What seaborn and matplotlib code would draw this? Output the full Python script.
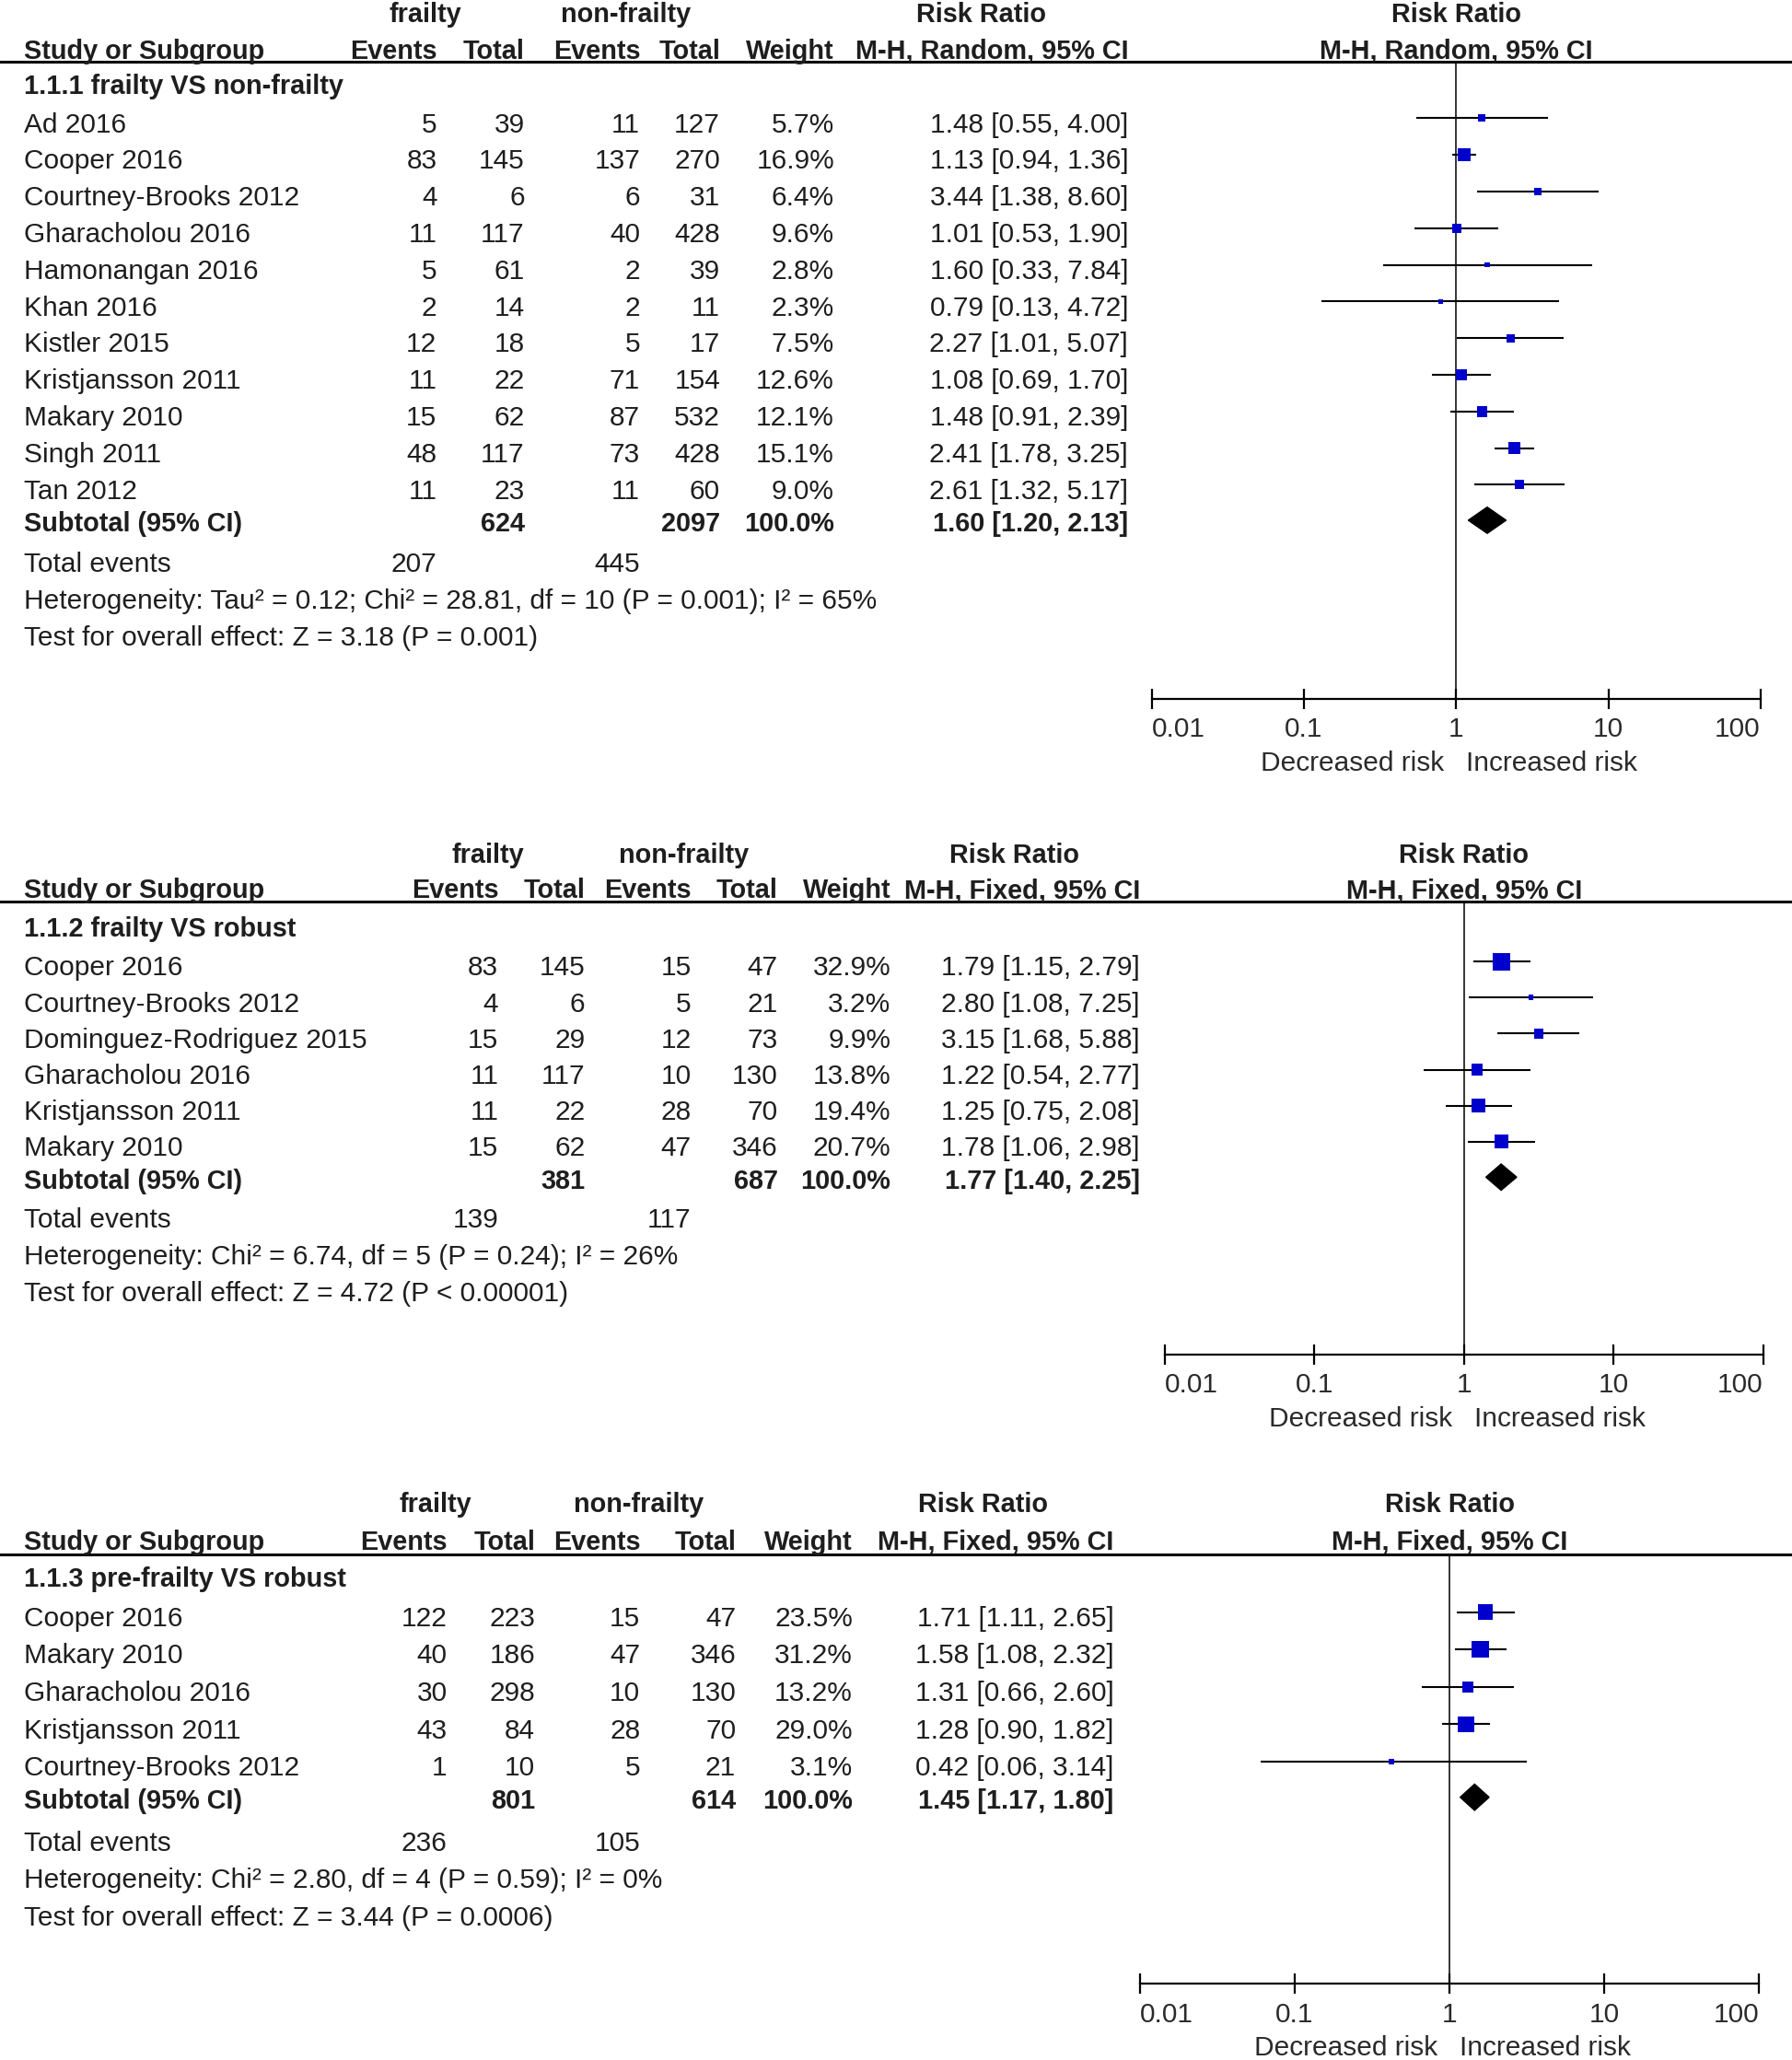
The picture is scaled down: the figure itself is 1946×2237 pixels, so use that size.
import numpy as np
import pandas as pd
import matplotlib
matplotlib.use("Agg")
import matplotlib.pyplot as plt
from matplotlib.ticker import NullLocator
import seaborn as sns

sns.set_theme(style="white")
plt.rcParams['font.family'] = ['Liberation Sans', 'DejaVu Sans']

# ---------------- data ----------------
# 1.1.1 frailty VS non-frailty (random effects)
p1_study = ["Ad 2016", "Cooper 2016", "Courtney-Brooks 2012", "Gharacholou 2016",
            "Hamonangan 2016", "Khan 2016", "Kistler 2015", "Kristjansson 2011",
            "Makary 2010", "Singh 2011", "Tan 2012"]
p1_ev1 = [5, 83, 4, 11, 5, 2, 12, 11, 15, 48, 11]
p1_tot1 = [39, 145, 6, 117, 61, 14, 18, 22, 62, 117, 23]
p1_ev2 = [11, 137, 6, 40, 2, 2, 5, 71, 87, 73, 11]
p1_tot2 = [127, 270, 31, 428, 39, 11, 17, 154, 532, 428, 60]
p1_weight = [5.7, 16.9, 6.4, 9.6, 2.8, 2.3, 7.5, 12.6, 12.1, 15.1, 9.0]
p1_rr = [1.48, 1.13, 3.44, 1.01, 1.60, 0.79, 2.27, 1.08, 1.48, 2.41, 2.61]
p1_lo = [0.55, 0.94, 1.38, 0.53, 0.33, 0.13, 1.01, 0.69, 0.91, 1.78, 1.32]
p1_hi = [4.00, 1.36, 8.60, 1.90, 7.84, 4.72, 5.07, 1.70, 2.39, 3.25, 5.17]
p1_sub = [624, 2097, 1.60, 1.20, 2.13]
p1_events = [207, 445]

# 1.1.2 frailty VS robust (fixed effects)
p2_study = ["Cooper 2016", "Courtney-Brooks 2012", "Dominguez-Rodriguez 2015",
            "Gharacholou 2016", "Kristjansson 2011", "Makary 2010"]
p2_ev1 = [83, 4, 15, 11, 11, 15]
p2_tot1 = [145, 6, 29, 117, 22, 62]
p2_ev2 = [15, 5, 12, 10, 28, 47]
p2_tot2 = [47, 21, 73, 130, 70, 346]
p2_weight = [32.9, 3.2, 9.9, 13.8, 19.4, 20.7]
p2_rr = [1.79, 2.80, 3.15, 1.22, 1.25, 1.78]
p2_lo = [1.15, 1.08, 1.68, 0.54, 0.75, 1.06]
p2_hi = [2.79, 7.25, 5.88, 2.77, 2.08, 2.98]
p2_sub = [381, 687, 1.77, 1.40, 2.25]
p2_events = [139, 117]

# 1.1.3 pre-frailty VS robust (fixed effects)
p3_study = ["Cooper 2016", "Makary 2010", "Gharacholou 2016", "Kristjansson 2011",
            "Courtney-Brooks 2012"]
p3_ev1 = [122, 40, 30, 43, 1]
p3_tot1 = [223, 186, 298, 84, 10]
p3_ev2 = [15, 47, 10, 28, 5]
p3_tot2 = [47, 346, 130, 70, 21]
p3_weight = [23.5, 31.2, 13.2, 29.0, 3.1]
p3_rr = [1.71, 1.58, 1.31, 1.28, 0.42]
p3_lo = [1.11, 1.08, 0.66, 0.90, 0.06]
p3_hi = [2.65, 2.32, 2.60, 1.82, 3.14]
p3_sub = [801, 614, 1.45, 1.17, 1.80]
p3_events = [236, 105]

tick_vals = [0.01, 0.1, 1, 10, 100]
tick_labels = ["0.01", "0.1", "1", "10", "100"]

panels = [
    dict(group="1.1.1 frailty VS non-frailty", method="M-H, Random, 95% CI",
         study=p1_study, ev1=p1_ev1, tot1=p1_tot1, ev2=p1_ev2, tot2=p1_tot2,
         weight=p1_weight, rr=p1_rr, lo=p1_lo, hi=p1_hi, sub=p1_sub, events=p1_events,
         het="Heterogeneity: Tau\u00b2 = 0.12; Chi\u00b2 = 28.81, df = 10 (P = 0.001); I\u00b2 = 65%",
         test="Test for overall effect: Z = 3.18 (P = 0.001)",
         # layout (reference units 1366 x 1568)
         cols=[333, 400, 488, 549, 636, 860], top=[324, 477, 748],
         hy=[11, 39], line=47, gy=66, first=95, pitch=27.9,
         suby=399, evy=430, hety=458, testy=486, fx=[878, 1342], axy=532),
    dict(group="1.1.2 frailty VS robust", method="M-H, Fixed, 95% CI",
         study=p2_study, ev1=p2_ev1, tot1=p2_tot1, ev2=p2_ev2, tot2=p2_tot2,
         weight=p2_weight, rr=p2_rr, lo=p2_lo, hi=p2_hi, sub=p2_sub, events=p2_events,
         het="Heterogeneity: Chi\u00b2 = 6.74, df = 5 (P = 0.24); I\u00b2 = 26%",
         test="Test for overall effect: Z = 4.72 (P < 0.00001)",
         cols=[380, 446, 527, 593, 679, 869], top=[372, 521, 773],
         hy=[651, 678], line=686, gy=707, first=737, pitch=27.4,
         suby=899, evy=929, hety=957, testy=985, fx=[888, 1344], axy=1031),
    dict(group="1.1.3 pre-frailty VS robust", method="M-H, Fixed, 95% CI",
         study=p3_study, ev1=p3_ev1, tot1=p3_tot1, ev2=p3_ev2, tot2=p3_tot2,
         weight=p3_weight, rr=p3_rr, lo=p3_lo, hi=p3_hi, sub=p3_sub, events=p3_events,
         het="Heterogeneity: Chi\u00b2 = 2.80, df = 4 (P = 0.59); I\u00b2 = 0%",
         test="Test for overall effect: Z = 3.44 (P = 0.0006)",
         cols=[341, 408, 488, 561, 650, 849], top=[332, 487, 749],
         hy=[1145, 1174], line=1183, gy=1202, first=1232, pitch=28.5,
         suby=1371, evy=1403, hety=1431, testy=1460, fx=[869, 1341], axy=1510),
]

W, H = 1366, 1568
SY = 2237 / H
FS = 21.5      # regular text
FSB = 20.8     # bold headers
TXT = "#1e1e1e"
BLUE = "#0000CC"
K_SIZE = 5.7  # marker area (pt^2) per weight percent

fig = plt.figure(figsize=(19.46, 22.37), dpi=100)
bg = fig.add_axes([0, 0, 1, 1])
bg.set_xlim(0, W)
bg.set_ylim(H, 0)
bg.axis('off')


def txt(x, y, s, ha='left', bold=False):
    bg.text(x, y, s, ha=ha, va='center', fontsize=FSB if bold else FS, color=TXT,
            fontweight='bold' if bold else 'normal')


def draw_panel(p):
    c = p['cols']
    x0, x1 = p['fx']
    xc = (x0 + x1) / 2

    # headers
    txt(p['top'][0], p['hy'][0], "frailty", ha='center', bold=True)
    txt(p['top'][1], p['hy'][0], "non-frailty", ha='center', bold=True)
    txt(p['top'][2], p['hy'][0], "Risk Ratio", ha='center', bold=True)
    txt(xc, p['hy'][0], "Risk Ratio", ha='center', bold=True)
    txt(18, p['hy'][1], "Study or Subgroup", bold=True)
    for x, s in zip(c, ["Events", "Total", "Events", "Total", "Weight", p['method']]):
        txt(x, p['hy'][1], s, ha='right', bold=True)
    txt(xc, p['hy'][1], p['method'], ha='center', bold=True)
    bg.plot([0, W], [p['line'], p['line']], color='black', lw=2.2)

    txt(18, p['gy'], p['group'], bold=True)

    n = len(p['study'])
    ys = [p['first'] + i * p['pitch'] for i in range(n)]
    for i in range(n):
        y = ys[i]
        txt(18, y, p['study'][i])
        vals = [p['ev1'][i], p['tot1'][i], p['ev2'][i], p['tot2'][i]]
        for x, v in zip(c[:4], vals):
            txt(x, y, str(v), ha='right')
        txt(c[4], y, f"{p['weight'][i]:.1f}%", ha='right')
        txt(c[5], y, f"{p['rr'][i]:.2f} [{p['lo'][i]:.2f}, {p['hi'][i]:.2f}]", ha='right')

    s = p['sub']
    txt(18, p['suby'], "Subtotal (95% CI)", bold=True)
    txt(c[1], p['suby'], str(s[0]), ha='right', bold=True)
    txt(c[3], p['suby'], str(s[1]), ha='right', bold=True)
    txt(c[4], p['suby'], "100.0%", ha='right', bold=True)
    txt(c[5], p['suby'], f"{s[2]:.2f} [{s[3]:.2f}, {s[4]:.2f}]", ha='right', bold=True)
    txt(18, p['evy'], "Total events")
    txt(c[0], p['evy'], str(p['events'][0]), ha='right')
    txt(c[2], p['evy'], str(p['events'][1]), ha='right')
    txt(18, p['hety'], p['het'])
    txt(18, p['testy'], p['test'])

    # forest plot axes
    ytop, ybot = p['line'], p['axy']
    ax = fig.add_axes([x0 / W, 1 - ybot / H, (x1 - x0) / W, (ybot - ytop) / H])
    ax.patch.set_alpha(0)
    ax.set_xscale('log')
    ax.set_xlim(0.01, 100)
    ax.set_ylim(ybot, ytop)
    for side in ['top', 'left', 'right']:
        ax.spines[side].set_visible(False)
    ax.spines['bottom'].set_linewidth(1.6)
    ax.spines['bottom'].set_color('black')
    ax.set_xticks(tick_vals, tick_labels)
    ax.xaxis.set_minor_locator(NullLocator())
    ax.set_yticks([])
    ax.tick_params(axis='x', bottom=True, direction='inout', length=16, width=1.6,
                   pad=6, labelsize=FS, labelcolor="#2a2a2a", color='black')
    labels = ax.get_xticklabels()
    labels[0].set_horizontalalignment('left')
    labels[-1].set_horizontalalignment('right')
    ax.axvline(1, color='black', lw=1.1, zorder=1)

    df = pd.DataFrame({'rr': p['rr'], 'lo': p['lo'], 'hi': p['hi'],
                       'weight': p['weight'], 'y': [y - 5 for y in ys]})
    ax.hlines(df['y'], df['lo'], df['hi'], color='black', lw=1.5, zorder=2)
    wmin, wmax = df['weight'].min(), df['weight'].max()
    sns.scatterplot(data=df, x='rr', y='y', size='weight',
                    sizes=(K_SIZE * wmin, K_SIZE * wmax), size_norm=(wmin, wmax),
                    marker='s', color=BLUE, linewidth=0, legend=False, ax=ax, zorder=3)
    ax.set_xlabel('')
    ax.set_ylabel('')

    yd = p['suby'] - 3
    hd = 10
    ax.fill([s[3], s[2], s[4], s[2]], [yd, yd - hd, yd, yd + hd], color='black', zorder=3)

    off = (581 - 532) * SY
    ax.annotate("Decreased risk", xy=(1, 0), xycoords=('data', 'axes fraction'),
                xytext=(-13, -off), textcoords='offset pixels', ha='right', va='center',
                fontsize=FS, color="#2a2a2a")
    ax.annotate("Increased risk", xy=(1, 0), xycoords=('data', 'axes fraction'),
                xytext=(11, -off), textcoords='offset pixels', ha='left', va='center',
                fontsize=FS, color="#2a2a2a")


for p in panels:
    draw_panel(p)

fig.savefig("out.png", dpi=100, facecolor='white')
